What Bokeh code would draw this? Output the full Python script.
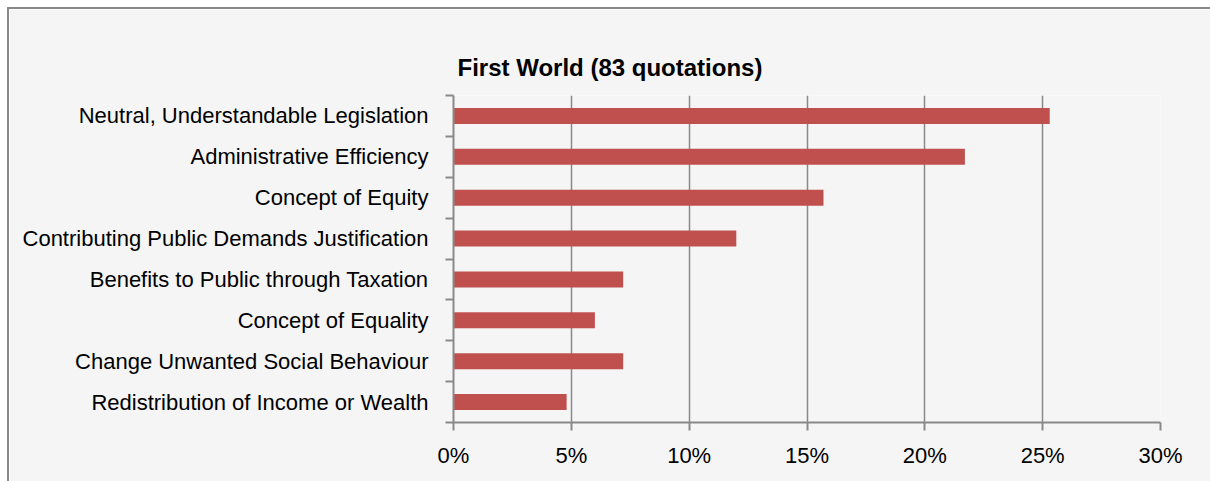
from bokeh.plotting import figure
from bokeh.models import (FixedTicker, Range1d, ColumnDataSource, PrintfTickFormatter,
                          LinearAxis)
from bokeh.embed import file_html
from bokeh.resources import INLINE

title_text = "First World (83 quotations)"
categories = [
    "Neutral, Understandable Legislation",
    "Administrative Efficiency",
    "Concept of Equity",
    "Contributing Public Demands Justification",
    "Benefits to Public through Taxation",
    "Concept of Equality",
    "Change Unwanted Social Behaviour",
    "Redistribution of Income or Wealth",
]
values = [25.3, 21.7, 15.7, 12.0, 7.2, 6.0, 7.2, 4.8]
x_ticks = [0, 5, 10, 15, 20, 25, 30]

n = len(categories)
centers = [n - 1 - i for i in range(n)]
boundaries = [k - 0.5 for k in range(n + 1)]

GRAY = "#898989"
BG = "#F5F5F5"
FONT = "Liberation Sans"

p = figure(
    width=1210, height=481,
    x_range=Range1d(x_ticks[0], x_ticks[-1]),
    y_range=Range1d(-0.5, n - 0.5),
    output_backend="svg", toolbar_location=None,
    min_border_left=444, min_border_right=59,
    min_border_top=86, min_border_bottom=68,
)
p.styles = {"margin-left": "7px", "margin-top": "7px",
            "border-left": f"2px solid {GRAY}", "border-top": f"2px solid {GRAY}"}
p.background_fill_color = BG
p.border_fill_color = BG
p.outline_line_color = None

p.title.text = title_text
p.title.align = "left"
p.title.offset = 4
p.title.text_font = FONT
p.title.text_font_size = "24px"
p.title.text_font_style = "bold"
p.title.text_color = "black"
p.title.standoff = 30

# invisible axis above the plot area, used only as a spacer below the title
spacer = LinearAxis(ticker=FixedTicker(ticks=[]), axis_line_color=None,
                    major_tick_line_color=None, minor_tick_line_color=None,
                    major_tick_out=22, major_tick_in=0, minor_tick_out=0,
                    minor_tick_in=0, major_label_standoff=0)
p.add_layout(spacer, "above")

src = ColumnDataSource(dict(y=centers, v=values, cat=categories))
p.hbar(y="y", left=0, right="v", height=0.39, source=src,
       fill_color="#C0504D", line_color=None)

# x axis (bottom)
xa = p.below[0]
xa.ticker = FixedTicker(ticks=x_ticks)
xa.formatter = PrintfTickFormatter(format="%d%%")
xa.axis_line_color = GRAY
xa.axis_line_width = 2
xa.major_tick_line_color = GRAY
xa.major_tick_line_width = 2
xa.major_tick_out = 8
xa.major_tick_in = 0
xa.minor_tick_line_color = None
xa.major_label_standoff = 12
xa.major_label_text_font = FONT
xa.major_label_text_font_size = "22px"
xa.major_label_text_color = "black"

# y axis
p.yaxis.ticker = FixedTicker(ticks=centers, minor_ticks=boundaries)
p.yaxis.major_label_overrides = {c: cat for c, cat in zip(centers, categories)}
p.yaxis.axis_line_color = GRAY
p.yaxis.axis_line_width = 2
p.yaxis.major_tick_line_color = None
p.yaxis.major_tick_out = 0
p.yaxis.major_tick_in = 0
p.yaxis.minor_tick_line_color = GRAY
p.yaxis.minor_tick_line_width = 2
p.yaxis.minor_tick_out = 8
p.yaxis.minor_tick_in = 0
p.yaxis.major_label_standoff = 17
p.yaxis.major_label_text_font = FONT
p.yaxis.major_label_text_font_size = "22px"
p.yaxis.major_label_text_color = "black"

p.xgrid.ticker = FixedTicker(ticks=x_ticks)
p.xgrid.grid_line_color = GRAY
p.xgrid.grid_line_width = 1.5
p.ygrid.grid_line_color = None

html = file_html(p, INLINE)
html = html.replace("<body>", '<body style="margin:0;overflow:hidden;background:white">', 1)
open("out.html", "w").write(html)
